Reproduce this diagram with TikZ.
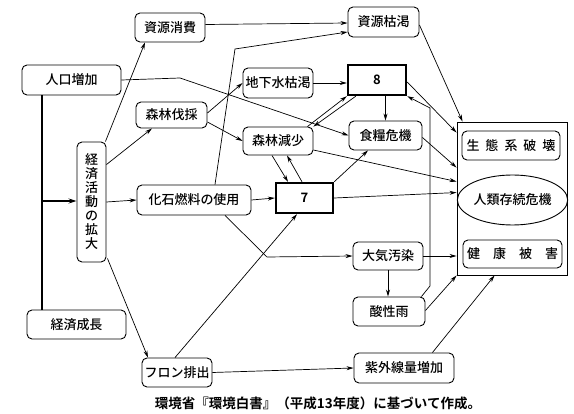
\documentclass[tikz,border=0pt]{standalone}
\usepackage{fontspec}
\setmainfont{Noto Sans CJK JP}[UprightFont=* Medium, BoldFont=* Bold]
\usepackage{tikz}
\usetikzlibrary{arrows.meta,shapes.geometric}

\begin{document}
\begin{tikzpicture}[x=1pt, y=-1pt,
  caja/.style={draw, rounded corners=5pt, line width=0.9pt, inner sep=0pt,
    font=\fontsize{13}{15}\selectfont},
  cajafuerte/.style={draw, line width=2.4pt, inner sep=0pt,
    font=\fontsize{13}{15}\selectfont\bfseries},
  flecha/.style={-{Stealth[length=7pt, width=4pt]}, line width=0.7pt},
  grueso/.style={line width=2.2pt},
]
  \useasboundingbox (0,0) rectangle (574,414);
  % Cajas
  \node[caja, minimum width=70pt, minimum height=29pt] (consumo) at (170,27.5) {資源消費};
  \node[caja, minimum width=71pt, minimum height=30pt] (agot) at (383.5,22) {資源枯渇};
  \node[caja, minimum width=99pt, minimum height=30pt] (poblacion) at (71.5,80) {人口増加};
  \node[caja, minimum width=70pt, minimum height=30pt] (acuifero) at (278,83) {地下水枯渇};
  \node[cajafuerte, minimum width=58pt, minimum height=30pt] (n8) at (377,80) {8};
  \node[caja, minimum width=71pt, minimum height=26pt] (tala) at (171.5,115) {森林伐採};
  \node[caja, minimum width=70pt, minimum height=28pt] (defor) at (278,141) {森林減少};
  \node[caja, minimum width=73pt, minimum height=29pt] (alimentos) at (385.5,135.5) {食糧危機};
  \node[caja, minimum width=29pt, minimum height=120pt, align=center,
    font=\fontsize{13}{14}\selectfont] (economia) at (91.5,202)
    {経\\済\\活\\動\\の\\拡\\大};
  \node[caja, minimum width=114pt, minimum height=30pt] (fosil) at (194,200) {化石燃料の使用};
  \node[cajafuerte, minimum width=57pt, minimum height=30pt] (n7) at (304.5,198) {7};
  \node[caja, minimum width=70pt, minimum height=28pt] (aire) at (388,256) {大気汚染};
  \node[caja, minimum width=72pt, minimum height=29pt] (lluvia) at (389,311.5) {酸性雨};
  \node[caja, minimum width=99pt, minimum height=29pt] (crecimiento) at (76.5,324.5) {経済成長};
  \node[caja, minimum width=70pt, minimum height=29pt] (freon) at (177,372.5) {フロン排出};
  \node[caja, minimum width=100pt, minimum height=30pt] (uv) at (404,368) {紫外線量増加};
  % Recuadro de efectos
  \node[draw, line width=0.9pt, minimum width=110pt, minimum height=153pt] (marco) at (512,198.5) {};
  \node[caja, minimum width=98pt, minimum height=29pt] (ecosis) at (511,145.5)
    {生\hspace{6pt}態\hspace{6pt}系\hspace{6pt}破\hspace{6pt}壊};
  \node[draw, ellipse, line width=0.9pt, inner sep=0pt, minimum width=99pt,
    minimum height=50pt, font=\fontsize{13}{15}\selectfont] (humanidad) at (512.5,200) {人類存続危機};
  \node[caja, minimum width=99pt, minimum height=28pt] (salud) at (512.5,254)
    {健\hspace{13pt}康\hspace{13pt}被\hspace{13pt}害};
  % Fuente
  \node[font=\fontsize{13.5}{15}\selectfont\bfseries] (fuente) at (318,403)
    {環境省『環境白書』（平成13年度）に基づいて作成。};
  % Eje de crecimiento
  \coordinate (eje) at (42,201);
  \draw[grueso] (poblacion.south -| eje) -- (crecimiento.north -| eje);
  \draw[grueso, -{Stealth[length=8pt, width=5pt]}] (eje) -- (economia.west |- eje);
  % Flechas
  \draw[flecha] ([yshift=3pt]consumo.east) -- ([yshift=-1pt]agot.west);
  \draw[flecha] ([xshift=21pt]fosil.north) -- (235,49) -- ([yshift=-10pt]agot.west);
  \draw[flecha] (poblacion.east) -- (180,78) -- (alimentos.west);
  \draw[flecha] ([xshift=-1pt]economia.north east) -- ([xshift=-25pt]consumo.south);
  \draw[flecha] ([yshift=-23pt]economia.north east) -- ([xshift=-19.5pt]tala.south);
  \draw[flecha] (economia.east) -- (fosil.west);
  \draw[flecha] ([xshift=1pt,yshift=4pt]economia.south east) -- ([xshift=-29pt]freon.north);
  \draw[flecha] ([yshift=2pt]tala.east) -- (acuifero.west);
  \draw[flecha] ([yshift=-7pt]tala.east) -- (defor.west);
  \draw[flecha] (acuifero.east) -- (n8.west |- acuifero.east);
  \draw[flecha] ([xshift=-6pt]defor.north east) -- (n8.south west);
  \draw[flecha] ([xshift=9pt]n8.south west) -- (defor.north east);
  \draw[flecha] (n8.south -| alimentos.north) -- (alimentos.north);
  \draw[flecha] ([yshift=-2pt]n8.east) -- ([yshift=-11pt]marco.north west);
  \draw[flecha] ([yshift=-3pt]agot.east) -- ([xshift=6pt]marco.north west);
  \draw[flecha] ([xshift=-4pt]lluvia.north east) -- (430,286) -- (430,108) -- (n8.south east);
  \draw[flecha] ([yshift=-2pt]alimentos.east) -- ([yshift=-46pt]marco.north west);
  \draw[flecha] ([yshift=-9pt]defor.east) -- ([yshift=-60pt]marco.north west);
  \draw[flecha] (n7.east) -- ([yshift=-71pt]marco.north west);
  \draw[flecha] ([xshift=-6pt]defor.south) -- ([xshift=-16.5pt]n7.north);
  \draw[flecha] ([xshift=-2.5pt]n7.north) -- ([xshift=9pt]defor.south);
  \draw[flecha] (n7.north east) -- ([xshift=-17.5pt]alimentos.south);
  \draw[flecha] (fosil.east) -- (n7.west);
  \draw[flecha] ([xshift=31pt]fosil.south) -- (267,257) -- (aire.west);
  \draw[flecha] ([xshift=-2pt]freon.north) -- ([xshift=-7.5pt]n7.south);
  \draw[flecha] (freon.east) -- (uv.west);
  \draw[flecha] ([xshift=-22pt]uv.north east) -- ([xshift=38pt]marco.south west);
  \draw[flecha] (aire.east) -- (aire.east -| marco.west);
  \draw[flecha] (aire.south) -- (aire.south |- lluvia.north);
  \draw[flecha] ([yshift=1pt]lluvia.east) -- (marco.south west);
\end{tikzpicture}
\end{document}
